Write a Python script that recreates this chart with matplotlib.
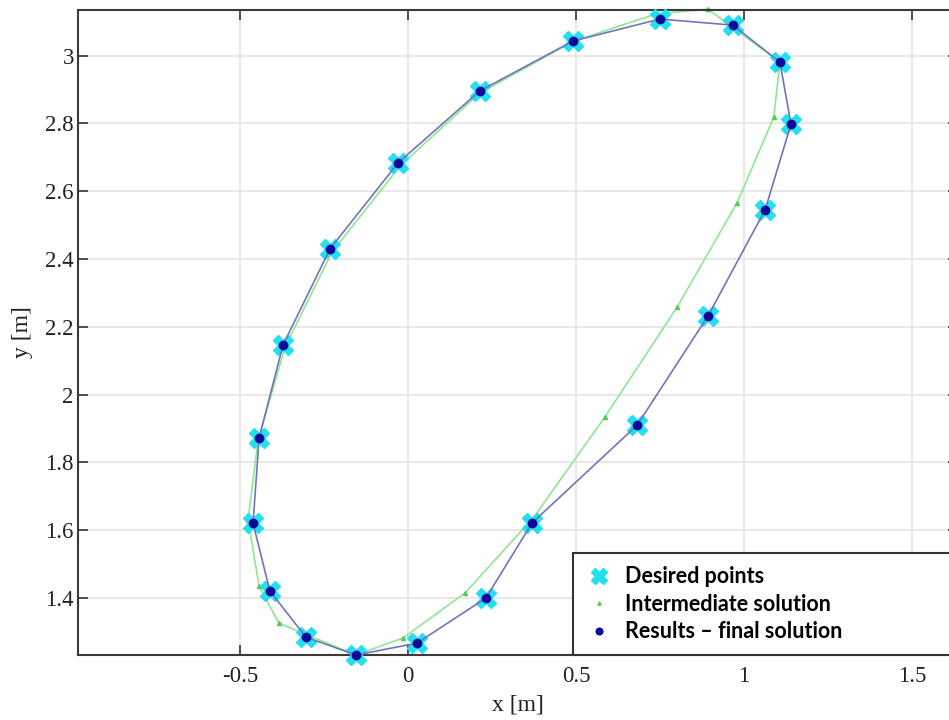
import matplotlib.pyplot as plt
import numpy as np

# desired trajectory points [m]
desired_x = [-0.155, 0.027, 0.232, 0.369, 0.682, 0.893, 1.063, 1.140, 1.107, 0.967,
             0.750, 0.491, 0.214, -0.030, -0.232, -0.372, -0.443, -0.461, -0.411, -0.304]
desired_y = [1.232, 1.267, 1.400, 1.621, 1.910, 2.232, 2.545, 2.798, 2.981, 3.090,
             3.108, 3.043, 2.896, 2.683, 2.430, 2.146, 1.872, 1.621, 1.421, 1.285]

# intermediate solution
inter_x = [-0.155, -0.015, 0.170, 0.375, 0.586, 0.801, 0.979, 1.089, 1.107, 0.893,
           0.738, 0.494, 0.214, -0.021, -0.226, -0.366, -0.446, -0.476, -0.443, -0.384]
inter_y = [1.232, 1.282, 1.415, 1.639, 1.934, 2.258, 2.565, 2.819, 2.981, 3.137,
           3.123, 3.043, 2.890, 2.677, 2.421, 2.140, 1.866, 1.630, 1.435, 1.326]

# final solution
final_x = [-0.155, 0.027, 0.232, 0.369, 0.682, 0.893, 1.063, 1.140, 1.107, 0.967,
           0.750, 0.491, 0.214, -0.030, -0.232, -0.372, -0.443, -0.461, -0.411, -0.304]
final_y = [1.232, 1.267, 1.400, 1.621, 1.910, 2.232, 2.545, 2.798, 2.981, 3.090,
           3.108, 3.043, 2.896, 2.683, 2.430, 2.146, 1.872, 1.621, 1.421, 1.285]

x_ticks = [-0.5, 0, 0.5, 1, 1.5]
x_ticklabels = ["-0.5", "0", "0.5", "1", "1.5"]
y_ticks = [1.4, 1.6, 1.8, 2, 2.2, 2.4, 2.6, 2.8, 3]
y_ticklabels = ["1.4", "1.6", "1.8", "2", "2.2", "2.4", "2.6", "2.8", "3"]

W, H = 949, 720
fig = plt.figure(figsize=(W / 100, H / 100), dpi=100)
# axes runs a bit past the right edge, like the cropped original
left, right, top, bottom = 78, 958, 10, 655
ax = fig.add_axes([left / W, 1 - bottom / H, (right - left) / W, (bottom - top) / H])

x_lo = -0.982
x_hi = x_lo + (right - left) / 336.0
ax.set_xlim(x_lo, x_hi)
ax.set_ylim(1.232, 1.232 + (bottom - top) / 339.0)

# closed curves
ix = np.append(inter_x, inter_x[0])
iy = np.append(inter_y, inter_y[0])
fx = np.append(final_x, final_x[0])
fy = np.append(final_y, final_y[0])

ax.plot(ix, iy, color="#8fe88f", lw=1.2, zorder=2, clip_on=False)
h_inter, = ax.plot(inter_x, inter_y, ls="none", marker="^", ms=3, color="#55cc55",
                   zorder=2, clip_on=False, label="Intermediate solution")
h_des, = ax.plot(desired_x, desired_y, ls="none", marker="X", ms=14, color="#22e0f0",
                 markeredgecolor="#22e0f0", zorder=3, clip_on=False, label="Desired points")
ax.plot(fx, fy, color="#7373bd", lw=1.2, zorder=4, clip_on=False)
h_fin, = ax.plot(final_x, final_y, ls="none", marker="o", ms=6, color="#0a0a9a",
                 zorder=5, clip_on=False, label="Results \u2013 final solution")

ax.set_xticks(x_ticks)
ax.set_xticklabels(x_ticklabels)
ax.set_yticks(y_ticks)
ax.set_yticklabels(y_ticklabels)
for lab in ax.get_xticklabels() + ax.get_yticklabels():
    lab.set_family("Liberation Serif")
    lab.set_fontsize(16.5)
    lab.set_color("#222222")

ax.tick_params(direction="in", length=7, width=1.2, color="#333333", top=True, right=True)
ax.tick_params(axis="x", pad=8)
ax.tick_params(axis="y", pad=3)
ax.grid(True, color="#e4e4e4", lw=1.2)
ax.set_axisbelow(True)
for s in ax.spines.values():
    s.set_color("#3a3a3a")
    s.set_linewidth(1.5)

ax.set_xlabel("x [m]", family="Liberation Serif", fontsize=17, color="#222222", labelpad=5)
ax.set_ylabel("y [m]", family="Liberation Serif", fontsize=17, color="#222222", labelpad=9)

# legend box starts at x=573 px and runs off the right edge
lx0 = (573 - left) / (right - left)
leg = ax.legend(handles=[h_des, h_inter, h_fin], loc="lower left", mode="expand",
                bbox_to_anchor=(lx0, 0, 1.1 - lx0, 0.16), borderaxespad=0,
                frameon=True, fancybox=False, framealpha=1, edgecolor="#333333",
                prop={"family": "Lato", "weight": "bold", "size": 15.5},
                handletextpad=0.6, labelspacing=0.3, borderpad=0.6,
                handlelength=1.2, markerscale=0.8)
leg.get_frame().set_linewidth(1.5)
leg.set_zorder(10)

fig.savefig("out.png", dpi=100)
